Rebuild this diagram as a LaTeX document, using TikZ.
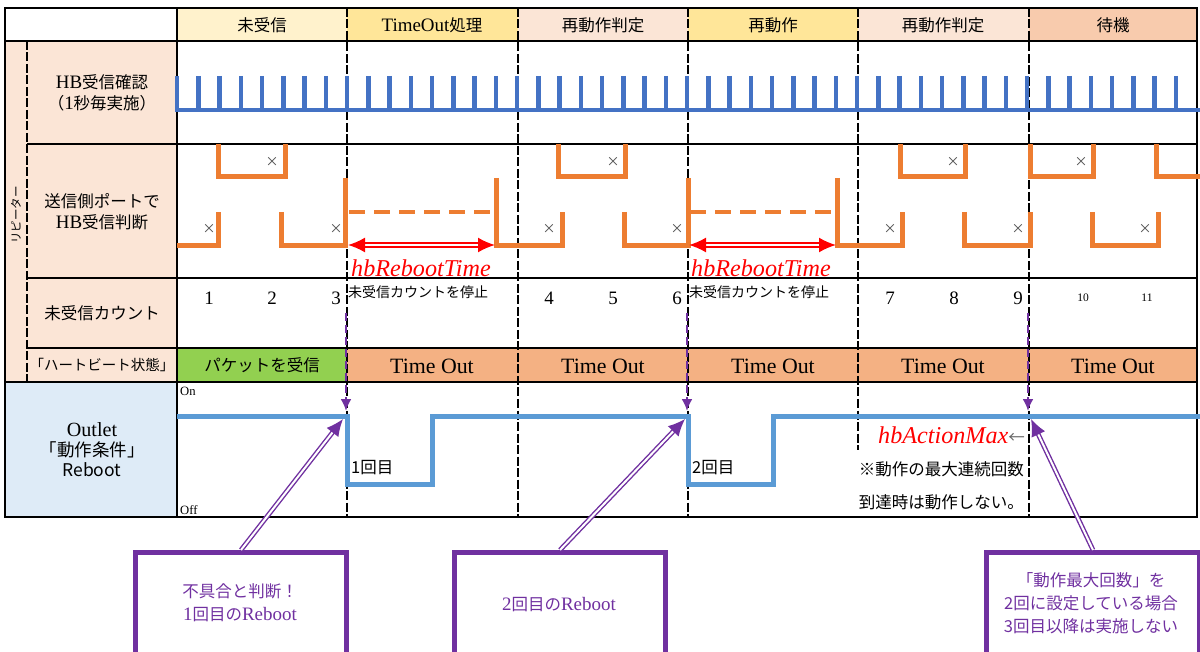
\documentclass[tikz,border=0pt]{standalone}
\usepackage{fontspec}
\setmainfont{Noto Sans CJK JP}
\newfontfamily\serif[Scale=1.15]{Liberation Serif}
\usepackage{tikz}
\usetikzlibrary{positioning, arrows.meta}

\definecolor{hdpale}{HTML}{FFF2CC}
\definecolor{hdgold}{HTML}{FFE699}
\definecolor{hdrose}{HTML}{FBE5D6}
\definecolor{hdsalmon}{HTML}{F8CBAD}
\definecolor{lblpeach}{HTML}{FBE5D6}
\definecolor{lblblue}{HTML}{DEEBF7}
\definecolor{okgreen}{HTML}{92D050}
\definecolor{tobrown}{HTML}{F4B183}
\definecolor{hbblue}{HTML}{4472C4}
\definecolor{sigorange}{HTML}{ED7D31}
\definecolor{outblue}{HTML}{5B9BD5}
\definecolor{callpurple}{HTML}{7030A0}

\tikzset{
  tline/.style={line width=1.8pt},
  cutline/.style={line width=1.5pt, dash pattern=on 9pt off 2.5pt},
  lbl/.style={inner sep=0pt, align=center, font=\fontsize{16.5}{21}\selectfont},
  sml/.style={inner sep=0pt, font=\fontsize{14}{14}\selectfont},
  num/.style={inner sep=0pt, font=\serif\fontsize{16.5}{18}\selectfont},
  xmark/.style={inner sep=0pt, text=black!70, font=\fontsize{13}{13}\selectfont},
  pulse/.style={draw=hbblue, line width=4.5pt},
  sig/.style={draw=sigorange, line width=5pt},
  sigdash/.style={draw=sigorange, line width=4pt, dash pattern=on 16pt off 9pt},
  outwave/.style={draw=outblue, line width=5pt},
  rtime/.style={draw=red, line width=1.8pt, double=white, double distance=2.2pt,
    {Latex[length=17pt,width=15pt]}-{Latex[length=17pt,width=15pt]}},
  rlabel/.style={inner sep=0pt, text=red, font=\serif\itshape\fontsize{21}{21}\selectfont},
  pdash/.style={draw=callpurple, line width=2.2pt, dash pattern=on 8pt off 4pt, -{Latex[length=12pt,width=11pt]}},
  pcall/.style={draw=callpurple, line width=1.4pt, double=white, double distance=2pt, -{Latex[length=17pt,width=15pt]}},
  cbox/.style={draw=callpurple, line width=5pt, minimum width=211pt, minimum height=120pt, anchor=north west},
  ctxt/.style={inner sep=0pt, align=center, text=callpurple, font=\fontsize{16.5}{23}\selectfont}
}

\begin{document}
\begin{tikzpicture}[x=1pt, y=-1pt]
  \useasboundingbox (0,0) rectangle (1200,652);
  \clip (0,0) rectangle (1200,652);

  % fills
  \fill[lblpeach] (5,41) rectangle (177,382);
  \fill[lblblue] (5,382) rectangle (177,517);
  \foreach \a/\b/\c in {177/347/hdpale, 347/518/hdgold, 518/688/hdrose, 688/858/hdgold, 858/1029/hdrose, 1029/1197/hdsalmon}
    \fill[\c] (\a,8) rectangle (\b,41);
  \fill[okgreen] (177,348) rectangle (347,382);
  \fill[tobrown] (347,348) rectangle (1197,382);

  % grid
  \draw[tline] (5,8) rectangle (1197,517);
  \foreach \y in {41,382} \draw[tline] (5,\y) -- (1197,\y);
  \foreach \y in {144,278,348} \draw[tline] (27,\y) -- (1197,\y);
  \draw[tline] (177,8) -- (177,517);
  \draw[cutline] (27,41) -- (27,382);
  \foreach \x in {347,518,688,1029} \draw[cutline] (\x,8) -- (\x,517);
  \draw[cutline] (858,8) -- (858,450);

  % header
  \foreach \i/\x/\t in {0/262/未受信, 1/432/{{\serif TimeOut}処理}, 2/603/再動作判定, 3/773/再動作, 4/943/再動作判定, 5/1113/待機}
    \node[lbl] (hd\i) at (\x,25) {\t};

  % row labels
  \node[lbl] (lhb) at (102,93) {{\serif HB}受信確認\\（{\serif 1}秒毎実施）};
  \node[lbl] (lsig) at (102,212) {送信側ポートで\\{\serif HB}受信判断};
  \node[lbl] (lcnt) at (102,313) {未受信カウント};
  \node[lbl, font=\fontsize{14.5}{15}\selectfont] (lhbs) at (102,365) {「ハートビート状態」};
  \node[lbl, font=\fontsize{11.5}{12}\selectfont, rotate=90] (lrep) at (16,215) {リピーター};
  \node[lbl, font=\fontsize{17.5}{20}\selectfont] (lout) at (92,450) {{\serif Outlet}\\「動作条件」\\Reboot};

  % HB pulses, 1 per second
  \draw[pulse] (175,110) -- (1200,110);
  \foreach \k in {0,...,47} \draw[pulse] (177+\k*21.25,76) -- ++(0,34);

  % sender port signal
  \draw[sig] (177,246) -- (218,246) -- (218,212);
  \foreach \a/\b in {218/285, 558/625, 900/965, 1030/1093}
    \draw[sig] (\a,144) -- (\a,177) -- (\b,177) -- (\b,144);
  \foreach \a/\ya/\b/\yb in {281/212/345/178, 496/178/562/212, 624/212/688/178, 837/178/902/212, 964/212/1030/212, 1092/212/1158/212}
    \draw[sig] (\a,\ya) -- (\a,246) -- (\b,246) -- (\b,\yb);
  \draw[sig] (1156,144) -- (1156,177) -- (1200,177);
  \draw[sigdash] (349,212) -- (494,212);
  \draw[sigdash] (690,212) -- (835,212);
  \foreach \x in {209,336,549,677,890,1018,1145} \node[xmark] (xl\x) at (\x,229) {×};
  \foreach \x in {272,613,953,1081} \node[xmark] (xu\x) at (\x,162) {×};

  % reboot wait time
  \coordinate (ra1) at (348,245); \coordinate (rb1) at (495,245);
  \coordinate (ra2) at (689,245); \coordinate (rb2) at (836,245);
  \draw[rtime] (ra1) -- (rb1);
  \draw[rtime] (ra2) -- (rb2);
  \node[rlabel] (rt1) at (421,268) {hbRebootTime};
  \node[rlabel] (rt2) at (761,268) {hbRebootTime};

  % count
  \foreach \n/\x in {1/209, 2/272, 3/336, 4/549, 5/613, 6/677, 7/890, 8/954, 9/1018}
    \node[num] (c\n) at (\x,298) {\n};
  \node[num, font=\serif\fontsize{10}{11}\selectfont] (c10) at (1083,298) {10};
  \node[num, font=\serif\fontsize{10}{11}\selectfont] (c11) at (1147,298) {11};
  \node[sml, anchor=west] (stop1) at (348,292) {未受信カウントを停止};
  \node[sml, anchor=west] (stop2) at (689,292) {未受信カウントを停止};

  % heartbeat state
  \node[lbl] (st0) at (262,365) {パケットを受信};
  \foreach \i/\x in {1/432, 2/603, 3/773, 4/943, 5/1113}
    \node[lbl, font=\serif\fontsize{19}{19}\selectfont] (st\i) at (\x,366) {Time Out};

  % outlet
  \node[inner sep=0pt, anchor=west, font=\serif\fontsize{11}{12}\selectfont] (on) at (180,391) {On};
  \node[inner sep=0pt, anchor=west, font=\serif\fontsize{11}{12}\selectfont] (off) at (180,510) {Off};
  \draw[outwave] (177,416) -- (347,416) -- (347,484) -- (432,484) -- (432,416) -- (688,416)
    -- (688,484) -- (773,484) -- (773,416) -- (1200,416);
  \node[lbl, anchor=west] (n1) at (351,468) {1回目};
  \node[lbl, anchor=west] (n2) at (692,468) {2回目};
  \node[lbl, anchor=east] (amax) at (1025,435) {\textcolor{red}{\serif\itshape\fontsize{21}{21}\selectfont hbActionMax}\textcolor{black!60}{←}};
  \node[lbl, anchor=east] (note1) at (1024,469) {※動作の最大連続回数};
  \node[lbl, anchor=east] (note2) at (1024,502) {到達時は動作しない。};

  % purple markers
  \foreach \i/\x in {1/346, 2/687, 3/1028} {
    \coordinate (pd\i) at (\x,313);
    \coordinate (pt\i) at (\x,411);
    \draw[pdash] (pd\i) -- (pt\i);
  }

  % callouts
  \node[cbox] (box1) at (133,550) {};
  \node[cbox] (box2) at (452,550) {};
  \node[cbox, minimum width=213pt] (box3) at (984,550) {};
  \node[ctxt] (box1txt) at (240,603) {不具合と判断！\\{\serif 1}回目の{\serif Reboot}};
  \node[ctxt] (box2txt) at (559,605) {{\serif 2}回目の{\serif Reboot}};
  \node[ctxt] (box3txt) at (1091,603) {「動作最大回数」を\\2回に設定している場合\\3回目以降は実施しない};
  \coordinate (hit1) at (343,419);
  \coordinate (hit2) at (685,419);
  \coordinate (hit3) at (1031,419);
  \draw[pcall] (box1.north) -- (hit1);
  \draw[pcall] (box2.north) -- (hit2);
  \draw[pcall] (box3.north) -- (hit3);
\end{tikzpicture}
\end{document}
